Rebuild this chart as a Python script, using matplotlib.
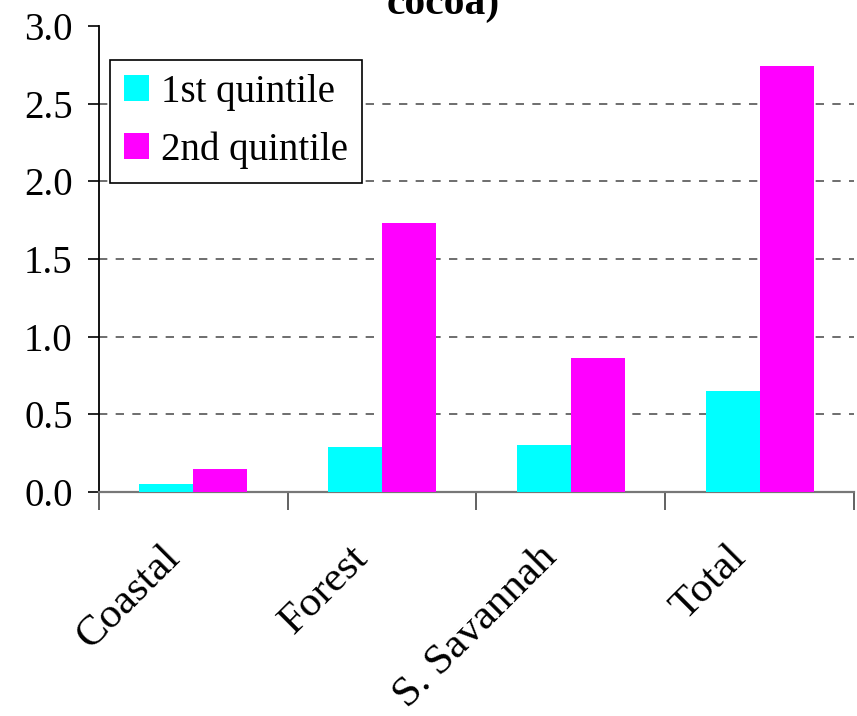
import numpy as np
import matplotlib.pyplot as plt
import matplotlib.transforms as mtransforms
from matplotlib.ticker import FixedLocator, MultipleLocator

plt.rcParams['font.family'] = ['Liberation Serif', 'DejaVu Serif']

# regions and values per quintile
regiones = ["Coastal", "Forest", "S. Savannah", "Total"]
quintil_1 = [0.05, 0.29, 0.30, 0.65]
quintil_2 = [0.15, 1.73, 0.86, 2.74]

fig = plt.figure(figsize=(8.57, 7.16), dpi=100)
ax = fig.add_axes([0.1155, 0.3128, 0.881, 0.6509])

x = np.arange(len(regiones))
ancho = 0.286
ax.bar(x - ancho / 2, quintil_1, ancho, color='#00FFFF', label='1st quintile', zorder=3)
ax.bar(x + ancho / 2, quintil_2, ancho, color='#FF00FF', label='2nd quintile', zorder=3)

ax.set_xlim(-0.5, len(regiones) - 0.5)
ax.set_ylim(0, 3.0)

# rejilla discontinua
ax.yaxis.set_major_locator(MultipleLocator(0.5))
ax.yaxis.set_major_formatter(plt.FuncFormatter(lambda v, p: f"{v:.1f}"))
for v in np.arange(0.5, 3.0, 0.5):
    ax.axhline(v, color='#555555', lw=1.2, ls=(0, (5, 5)), zorder=1)

ax.spines['top'].set_visible(False)
ax.spines['right'].set_visible(False)
ax.spines['left'].set_color('black')
ax.spines['left'].set_linewidth(1.3)
ax.spines['bottom'].set_color('#777777')
ax.spines['bottom'].set_linewidth(1.6)

ax.tick_params(axis='y', direction='out', length=8, width=1.2, labelsize=28, pad=11, color='black')

# marcas entre categorias
ax.xaxis.set_major_locator(FixedLocator(x))
ax.xaxis.set_minor_locator(FixedLocator(np.arange(-0.5, len(regiones), 1.0)))
ax.tick_params(axis='x', which='major', length=0, pad=33)
ax.tick_params(axis='x', which='minor', direction='out', length=13, width=1.3, color='#555555')
ax.set_xticklabels(regiones, rotation=45, ha='right', va='top', rotation_mode='anchor', fontsize=31)
desplazamiento = mtransforms.ScaledTranslation(-0.33, 0.0, fig.dpi_scale_trans)
for etiqueta in ax.get_xticklabels():
    etiqueta.set_transform(etiqueta.get_transform() + desplazamiento)

leg = fig.legend(loc='upper left', bbox_to_anchor=(110 / 857, 1 - 60 / 716), fontsize=28, frameon=True,
                 fancybox=False, edgecolor='black', handlelength=0.65, handleheight=0.65, borderpad=0.36,
                 labelspacing=0.52, handletextpad=0.3, borderaxespad=0.0)
leg.get_frame().set_linewidth(1.2)
leg.get_frame().set_alpha(1)

fig.text(0.5175, 1 - 14 / 716, "cocoa)", ha='center', va='baseline', fontsize=30, fontweight='bold')

plt.savefig("out.png", dpi=100)
